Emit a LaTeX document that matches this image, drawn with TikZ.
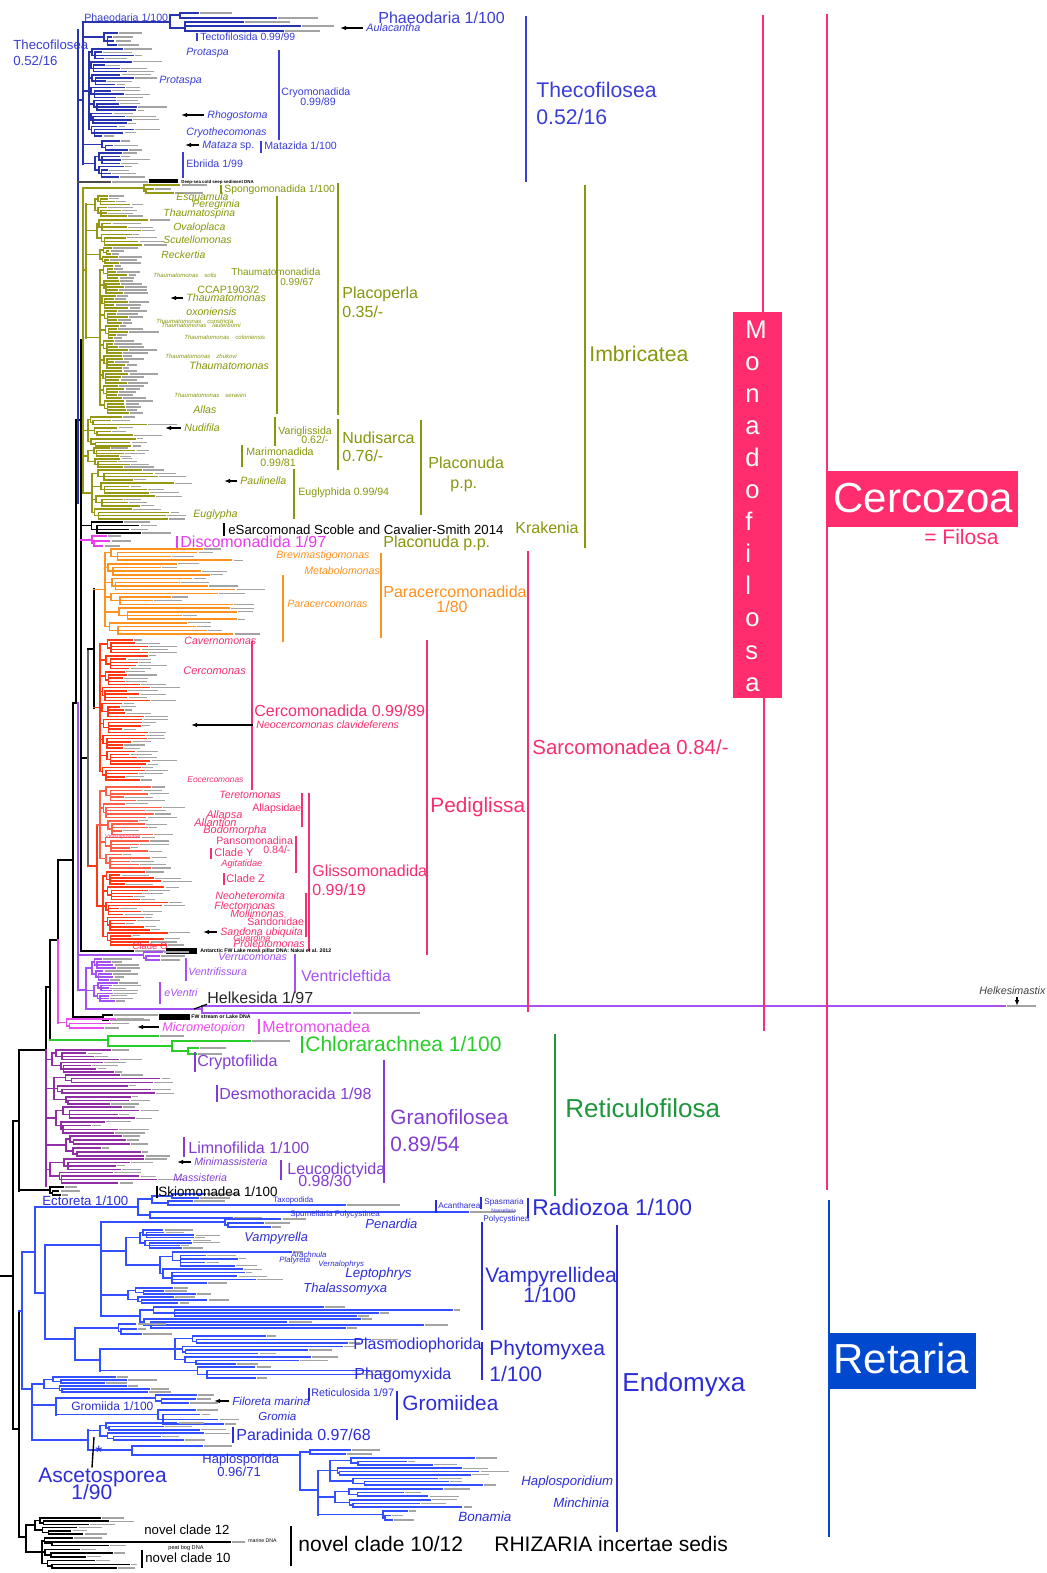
\documentclass[tikz,border=0pt]{standalone}
\usepackage{fontspec}
\setmainfont{Liberation Sans}
\usetikzlibrary{arrows.meta}

\definecolor{pinkC}{RGB}{255,45,110}
\definecolor{retC}{RGB}{0,72,205}
\definecolor{thecoL}{RGB}{58,62,214}
\definecolor{thecoB}{RGB}{40,52,175}
\definecolor{oliveL}{RGB}{135,150,10}
\definecolor{oliveB}{RGB}{150,152,20}
\definecolor{discoC}{RGB}{232,60,238}
\definecolor{orangeC}{RGB}{255,145,30}
\definecolor{cercL}{RGB}{245,48,110}
\definecolor{redB}{RGB}{255,55,20}
\definecolor{salmonB}{RGB}{255,95,70}
\definecolor{ventC}{RGB}{165,80,245}
\definecolor{metroC}{RGB}{235,75,240}
\definecolor{chlorC}{RGB}{40,205,40}
\definecolor{retiL}{RGB}{30,150,60}
\definecolor{granoB}{RGB}{145,45,165}
\definecolor{granoL}{RGB}{130,60,210}
\definecolor{endoL}{RGB}{45,45,215}
\definecolor{endoB}{RGB}{50,80,255}

\tikzset{
  lab/.style={inner sep=0pt, anchor=base west},
  fs/.style={font=\fontsize{#1}{#1}\selectfont, yshift={-0.358*#1pt}},
  fsi/.style={font=\fontsize{#1}{#1}\selectfont\itshape, yshift={-0.358*#1pt}},
  brc/.style={line width=0.75pt, line cap=rect, draw=#1},
  tipl/.style={line width=0.55pt, draw=black!36},
  cb/.style={line width=0.75pt, draw=#1},
  arr/.style={line width=0.55pt, black, -{Latex[length=3pt,width=2.2pt]}},
}

% random two-level comb of leaves, used for every terminal clade
\pgfkeys{/comb/.is family}
\pgfkeys{/comb/.cd, seed/.initial=1, px/.initial=-1, x/.initial=0, top/.initial=0,
  bot/.initial=10, groups/.initial=1, leaves/.initial=3, min/.initial=10, max/.initial=20}
\newcommand\cladecomb[2]{%
  \begingroup
  \pgfkeys{/comb/.cd,#2}%
  \pgfmathsetseed{\pgfkeysvalueof{/comb/seed}}%
  \pgfmathsetmacro\ccX{\pgfkeysvalueof{/comb/x}}%
  \pgfmathsetmacro\ccP{\pgfkeysvalueof{/comb/px}}%
  \pgfmathsetmacro\ccT{\pgfkeysvalueof{/comb/top}}%
  \pgfmathsetmacro\ccB{\pgfkeysvalueof{/comb/bot}}%
  \pgfmathtruncatemacro\ccG{\pgfkeysvalueof{/comb/groups}}%
  \pgfmathtruncatemacro\ccN{\pgfkeysvalueof{/comb/leaves}}%
  \pgfmathsetmacro\ccMin{\pgfkeysvalueof{/comb/min}}%
  \pgfmathsetmacro\ccMax{\pgfkeysvalueof{/comb/max}}%
  \pgfmathsetmacro\ccL{(\ccB-\ccT)/(\ccG*\ccN-1)}%
  \pgfmathtruncatemacro\ccGm{\ccG-1}%
  \pgfmathtruncatemacro\ccNm{\ccN-1}%
  \pgfmathsetmacro\ccQ{\ccN*\ccL/4}%
  \pgfmathsetmacro\ccRt{\ccT+\ccQ}%
  \pgfmathsetmacro\ccRb{\ccT+\ccGm*\ccN*\ccL+\ccQ}%
  \pgfmathsetmacro\ccRm{(\ccRt+\ccRb)/2}%
  \draw[#1] (\ccX,\ccRt) -- (\ccX,\ccRb);
  \ifdim\ccP pt>0pt\relax \draw[#1] (\ccP,\ccRm) -- (\ccX,\ccRm);\fi
  \foreach \ccg in {0,...,\ccGm}{%
    \pgfmathsetmacro\ccGY{\ccT+\ccg*\ccN*\ccL}%
    \pgfmathsetmacro\ccGX{\ccX+2+rnd*0.3*(\ccMin-\ccX)}%
    \pgfmathsetmacro\ccHX{\ccGX+2+rnd*0.25*(\ccMin-\ccGX)}%
    \pgfmathsetmacro\ccHM{\ccGY+\ccN*\ccL/2}%
    \pgfmathsetmacro\ccGM{\ccGY+\ccQ}%
    \pgfmathsetmacro\ccLX{\ccMin+rnd*(\ccMax-\ccMin)}%
    \pgfmathsetmacro\ccTX{\ccLX+8+rnd*24}%
    \draw[#1] (\ccX,\ccGM) -- (\ccGX,\ccGM) (\ccGX,\ccGY) -- (\ccGX,\ccHM) -- (\ccHX,\ccHM)
      (\ccHX,{\ccGY+\ccL}) -- (\ccHX,{\ccGY+\ccNm*\ccL}) (\ccGX,\ccGY) -- (\ccLX,\ccGY);
    \draw[tipl] ({\ccLX+2},\ccGY) -- (\ccTX,\ccGY);
    \foreach \cck in {1,...,\ccNm}{%
      \pgfmathsetmacro\ccLY{\ccGY+\cck*\ccL}%
      \pgfmathsetmacro\ccLX{\ccMin+rnd*(\ccMax-\ccMin)}%
      \pgfmathsetmacro\ccTX{\ccLX+8+rnd*24}%
      \draw[#1] (\ccHX,\ccLY) -- (\ccLX,\ccLY);
      \draw[tipl] ({\ccLX+2},\ccLY) -- (\ccTX,\ccLY);
    }%
  }%
  \endgroup}

\begin{document}
\begin{tikzpicture}[x=0.5pt,y=-0.5pt]
\useasboundingbox (0,0) rectangle (1046,1573);
\fill[white] (0,0) rectangle (1046,1573);

% ================= backbone =================
\draw[brc=black] (0,1276) -- (13,1276) (13,1121) -- (13,1429);
\draw[brc=black] (13,1121) -- (19,1121) (19,1050) -- (19,1191);
\draw[brc=black] (19,1050) -- (46,1050) (46,987) -- (46,1050);
\draw[brc=granoB] (46,1050) -- (46,1186);
\draw[brc=black] (46,987) -- (50,987) (50,940) -- (50,1040);
\draw[brc=black] (50,940) -- (58,940) (58,860) -- (58,940);
\draw[brc=metroC] (58,940) -- (58,1023);
\draw[brc=black] (58,860) -- (73,860) (73,703) -- (73,1017);
\draw[brc=black, line width=1.3pt] (76,420) -- (76,703);
\draw[brc=black] (73,703) -- (78,703) (76,420) -- (81,420);
\draw[brc=ventC] (78,703) -- (78,990) (78,990) -- (86,990) (86,968) -- (86,1009);
\draw[brc=black] (81,340) -- (81,951);
\draw[brc=thecoB] (78,30) -- (78,503) (78,100) -- (83,100) (83,22) -- (83,164);

% ================= Thecofilosea =================
\draw[brc=thecoB] (83,22) -- (170,22) (170,15) -- (170,28)
  (170,15) -- (180,15) (180,13) -- (180,18) (180,13) -- (198,13) (180,18) -- (276,18)
  (170,28) -- (185,28) (185,22) -- (185,31) (185,22) -- (243,22) (185,31) -- (283,31) (185,26) -- (300,26);
\draw[tipl] (200,13) -- (232,13) (278,18) -- (318,18) (245,22) -- (290,22) (302,26) -- (334,26) (285,31) -- (320,31);
\cladecomb{brc=thecoB}{seed=11, px=83, x=100, top=33, bot=45, groups=1, leaves=4, min=110, max=130}
\cladecomb{brc=thecoB}{seed=12, px=83, x=89, top=49, bot=136, groups=7, leaves=4, min=100, max=138}
\cladecomb{brc=thecoB}{seed=13, px=83, x=100, top=141, bot=150, groups=1, leaves=3, min=112, max=128}
\cladecomb{brc=thecoB}{seed=14, px=83, x=95, top=153, bot=177, groups=2, leaves=4, min=105, max=128}
\draw[brc=black!70] (78,182) -- (110,182);
\draw[tipl] (112,182) -- (148,182);
\fill[black] (149,179.5) rectangle (178,183.5);

% ================= Imbricatea =================
\draw[brc=black] (81,340) -- (83,340);
\draw[brc=oliveB] (83,188) -- (83,493) (83,270) -- (86,270) (86,204) -- (86,338);
\cladecomb{brc=oliveB}{seed=21, px=83, x=140, top=185, bot=193, groups=1, leaves=3, min=150, max=185}
\cladecomb{brc=oliveB}{seed=22, px=86, x=95, top=196, bot=216, groups=2, leaves=4, min=105, max=130}
\cladecomb{brc=oliveB}{seed=23, px=86, x=97, top=220, bot=245, groups=2, leaves=4, min=108, max=150}
\cladecomb{brc=oliveB}{seed=24, px=86, x=100, top=248, bot=263, groups=2, leaves=3, min=108, max=125}
\cladecomb{brc=oliveB}{seed=25, px=86, x=100, top=266, bot=413, groups=10, leaves=5, min=112, max=128}
\cladecomb{brc=oliveB}{seed=26, px=83, x=88, top=417, bot=446, groups=3, leaves=3, min=110, max=150}
\cladecomb{brc=oliveB}{seed=27, px=83, x=88, top=448, bot=467, groups=2, leaves=4, min=105, max=135}
\cladecomb{brc=oliveB}{seed=28, px=83, x=92, top=470, bot=519, groups=4, leaves=4, min=120, max=175}
\cladecomb{brc=black}{seed=29, px=81, x=88, top=522, bot=533, groups=1, leaves=4, min=110, max=160}

% ================= Sarcomonadea =================
\cladecomb{brc=discoC}{seed=31, px=81, x=88, top=536, bot=546, groups=1, leaves=3, min=100, max=118}
\draw[brc=black] (81,758) -- (88,758);
\draw[brc=black!60] (88,649) -- (88,866);
\draw[brc=black] (88,649) -- (94,649) (94,589) -- (94,708);
\cladecomb{brc=orangeC}{seed=32, px=94, x=105, top=549, bot=634, groups=6, leaves=4, min=150, max=240}
\cladecomb{brc=redB}{seed=33, px=94, x=100, top=640, bot=780, groups=9, leaves=5, min=118, max=150}
\draw[brc=redB] (88,866) -- (97,866) (97,825) -- (97,906);
\cladecomb{brc=salmonB}{seed=34, px=97, x=100, top=787, bot=868, groups=5, leaves=5, min=120, max=165}
\cladecomb{brc=redB}{seed=35, px=97, x=103, top=872, bot=945, groups=5, leaves=5, min=115, max=170}
\draw[brc=black] (81,951) -- (133,951);
\draw[tipl] (135,951) -- (165,951);
\fill[black] (166,948) rectangle (197,954);

% ================= Ventricleftida, Helkesida =================
\cladecomb{brc=ventC}{seed=41, px=78, x=140, top=952, bot=960, groups=1, leaves=3, min=150, max=165}
\cladecomb{brc=ventC}{seed=42, px=86, x=92, top=959, bot=980, groups=2, leaves=4, min=100, max=118}
\cladecomb{brc=ventC}{seed=43, px=86, x=94, top=983, bot=1001, groups=2, leaves=4, min=102, max=118}
\draw[brc=ventC] (86,1009) -- (202,1009) (202,1006) -- (202,1013) (202,1006) -- (1005,1006) (202,1013) -- (350,1013);
\draw[tipl] (1007,1006) -- (1036,1006) (353,1013) -- (420,1013);
\draw[brc=black] (73,1017) -- (103,1017) (103,1015) -- (103,1020) (103,1015) -- (112,1015) (103,1020) -- (108,1020);
\draw[tipl] (114,1015) -- (158,1015) (110,1020) -- (150,1020);
\fill[black] (159,1014) rectangle (190,1020);

% ================= Metromonadea, Chlorarachnea =================
\cladecomb{brc=metroC}{seed=57, px=58, x=62, top=1019, bot=1028, groups=1, leaves=3, min=75, max=140}
\draw[brc=chlorC] (50,1040) -- (108,1040) (108,1036) -- (108,1046) (108,1036) -- (158,1036) (108,1046) -- (172,1046)
  (172,1041) -- (172,1051) (172,1041) -- (250,1041) (172,1051) -- (188,1051) (188,1048) -- (188,1054)
  (188,1048) -- (198,1048) (188,1054) -- (196,1054);
\draw[tipl] (160,1036) -- (184,1036) (252,1041) -- (290,1041) (200,1048) -- (226,1048) (198,1054) -- (222,1054);

% ================= Granofilosea, Skiomonadea =================
\cladecomb{brc=granoB}{seed=52, px=46, x=52, top=1050, bot=1072, groups=2, leaves=4, min=85, max=130}
\cladecomb{brc=granoB}{seed=53, px=46, x=54, top=1075, bot=1104, groups=3, leaves=3, min=90, max=160}
\cladecomb{brc=granoB}{seed=54, px=46, x=56, top=1107, bot=1133, groups=2, leaves=4, min=85, max=140}
\cladecomb{brc=granoB}{seed=55, px=46, x=66, top=1136, bot=1156, groups=2, leaves=3, min=90, max=150}
\cladecomb{brc=granoB}{seed=56, px=46, x=50, top=1159, bot=1183, groups=2, leaves=4, min=90, max=160}
\cladecomb{brc=black}{seed=51, px=19, x=46, top=1187, bot=1195, groups=1, leaves=3, min=58, max=75}

% ================= Retaria, Endomyxa =================
\draw[brc=black] (13,1429) -- (19,1429) (19,1311) -- (19,1537);
\draw[brc=endoB] (19,1311) -- (22,1311) (22,1252) -- (22,1389);
\draw[brc=endoB] (22,1252) -- (35,1252) (35,1207) -- (35,1293);
\draw[brc=endoB] (35,1207) -- (138,1207) (138,1199) -- (138,1215)
  (138,1199) -- (152,1199) (152,1196) -- (152,1203)
  (152,1196) -- (172,1196) (172,1194) -- (172,1198) (172,1194) -- (205,1194) (172,1198) -- (198,1198)
  (152,1203) -- (168,1203) (168,1201) -- (168,1205) (168,1201) -- (192,1201) (168,1205) -- (345,1205)
  (138,1215) -- (150,1215) (150,1212) -- (150,1218) (150,1212) -- (468,1212) (150,1218) -- (232,1218);
\draw[tipl] (207,1194) -- (240,1194) (200,1198) -- (230,1198) (194,1201) -- (225,1201) (347,1205) -- (400,1205)
  (470,1212) -- (515,1212) (234,1218) -- (262,1218);
\draw[brc=endoB] (35,1293) -- (45,1293) (45,1245) -- (45,1339);
\draw[brc=endoB] (45,1245) -- (101,1245) (101,1222) -- (101,1316) (101,1251) -- (126,1251) (126,1238) -- (126,1265);
\cladecomb{brc=endoB}{seed=61, px=101, x=220, top=1219, bot=1227, groups=1, leaves=3, min=240, max=290}
\cladecomb{brc=endoB}{seed=62, px=126, x=140, top=1230, bot=1248, groups=2, leaves=4, min=160, max=210}
\cladecomb{brc=endoB}{seed=63, px=126, x=160, top=1252, bot=1283, groups=2, leaves=5, min=200, max=300}
\cladecomb{brc=endoB}{seed=64, px=101, x=128, top=1288, bot=1303, groups=2, leaves=3, min=160, max=240}
\cladecomb{brc=endoB}{seed=68, px=101, x=140, top=1307, bot=1328, groups=2, leaves=4, min=250, max=460}
\draw[brc=endoB] (45,1339) -- (75,1339) (75,1328) -- (75,1360) (75,1360) -- (100,1360) (100,1349) -- (100,1371);
\cladecomb{brc=endoB}{seed=65, px=75, x=115, top=1324, bot=1334, groups=1, leaves=3, min=135, max=180}
\cladecomb{brc=endoB}{seed=66, px=100, x=175, top=1336, bot=1364, groups=3, leaves=3, min=230, max=370}
\cladecomb{brc=endoB}{seed=67, px=100, x=185, top=1367, bot=1378, groups=1, leaves=4, min=240, max=372}
\draw[brc=endoB] (22,1389) -- (32,1389) (32,1384) -- (32,1440) (32,1405) -- (56,1405) (56,1399) -- (56,1415);
\cladecomb{brc=endoB}{seed=71, px=32, x=44, top=1377, bot=1392, groups=2, leaves=3, min=100, max=150}
\cladecomb{brc=endoB}{seed=72, px=56, x=152, top=1395, bot=1403, groups=1, leaves=3, min=185, max=205}
\cladecomb{brc=endoB}{seed=73, px=56, x=150, top=1410, bot=1424, groups=1, leaves=4, min=175, max=225}
\draw[brc=endoB] (32,1440) -- (88,1440) (88,1430) -- (88,1450);
\cladecomb{brc=endoB}{seed=74, px=88, x=100, top=1423, bot=1440, groups=2, leaves=3, min=125, max=205}
\draw[brc=endoB] (88,1450) -- (132,1450) (132,1446) -- (132,1455) (132,1446) -- (202,1446) (132,1455) -- (300,1455)
  (300,1452) -- (300,1490) (300,1452) -- (310,1452) (310,1450) -- (310,1454) (310,1450) -- (350,1450) (310,1454) -- (345,1454)
  (300,1490) -- (318,1490) (318,1471) -- (318,1515);
\draw[tipl] (204,1446) -- (232,1446) (352,1450) -- (380,1450) (347,1454) -- (372,1454);
\cladecomb{brc=endoB}{seed=76, px=318, x=330, top=1458, bot=1485, groups=3, leaves=3, min=400, max=500}
\cladecomb{brc=endoB}{seed=77, px=318, x=335, top=1489, bot=1507, groups=2, leaves=3, min=400, max=470}
\cladecomb{brc=endoB}{seed=78, px=318, x=380, top=1511, bot=1520, groups=1, leaves=3, min=390, max=410}

% ================= novel clades =================
\draw[brc=black] (19,1537) -- (26,1537) (26,1525) -- (26,1552);
\cladecomb{brc=black}{seed=81, px=26, x=35, top=1518, bot=1534, groups=2, leaves=3, min=60, max=110}
\cladecomb{brc=black}{seed=82, px=26, x=42, top=1538, bot=1568, groups=3, leaves=3, min=70, max=130}
\draw[brc=black] (45,1542) -- (230,1542);
\draw[tipl] (232,1542) -- (245,1542);

% ================= clade bars =================
\draw[cb=thecoL] (526,16) -- (526,182) (279,50) -- (279,140) (261,141) -- (261,153) (183,152) -- (183,178) (197,33) -- (197,41);
\draw[cb=oliveL] (221,185) -- (221,194) (277,196) -- (277,414) (338,183) -- (338,415) (275,417) -- (275,446)
  (242,445) -- (242,467) (338,419) -- (338,470) (294,469) -- (294,519) (421,420) -- (421,515) (585,185) -- (585,548);
\draw[cb=black] (224,523) -- (224,536) (157,1186) -- (157,1198) (142,1550) -- (142,1568) (291,1526) -- (291,1566);
\draw[cb=discoC] (177,536) -- (177,548);
\draw[cb=orangeC] (381,553) -- (381,638) (283,575) -- (283,642);
\draw[cb=cercL] (252,641) -- (252,790) (302,793) -- (302,827) (296,836) -- (296,873) (211,848) -- (211,859)
  (224,873) -- (224,885) (309,793) -- (309,951) (306,893) -- (306,937) (427,640) -- (427,955) (528,551) -- (528,1012);
\draw[cb=ventC] (186,958) -- (186,981) (295,954) -- (295,993) (160,982) -- (160,1004);
\draw[cb=metroC] (259,1019) -- (259,1034);
\draw[cb=chlorC] (302,1036) -- (302,1053);
\draw[cb=retiL] (555,1034) -- (555,1196);
\draw[cb=granoL] (195,1052) -- (195,1072) (217,1085) -- (217,1102) (384,1060) -- (384,1183) (184,1137) -- (184,1157) (281,1160) -- (281,1180);
\draw[cb=endoL] (436,1200) -- (436,1213) (481,1197) -- (481,1209) (528,1198) -- (528,1218) (482,1222) -- (482,1330)
  (482,1342) -- (482,1380) (617,1225) -- (617,1532) (309,1388) -- (309,1401) (397,1391) -- (397,1420) (233,1427) -- (233,1443);

% ================= labels: Thecofilosea =================
\node[lab,fs=5.3,thecoL] (tPhaeoS) at (84,18) {Phaeodaria 1/100};
\node[lab,fs=6.6,thecoL] (tThecoS) at (13,45) {Thecofilosea};
\node[lab,fs=6.6,thecoL] (tThecoSv) at (13,61) {0.52/16};
\node[lab,fs=8,thecoL] (tPhaeo) at (378,18) {Phaeodaria 1/100};
\node[lab,fsi=5.4,thecoL] (tAula) at (366,28) {Aulacantha};
\node[lab,fs=5.2,thecoL] (tTecto) at (200,37) {Tectofilosida 0.99/99};
\node[lab,fsi=5.3,thecoL] (tProt1) at (186,52) {Protaspa};
\node[lab,fsi=5.3,thecoL] (tProt2) at (159,80) {Protaspa};
\node[lab,fs=5.3,thecoL] (tCryo) at (281,92) {Cryomonadida};
\node[lab,fs=5.3,thecoL] (tCryoV) at (300,102) {0.99/89};
\node[lab,fsi=5.3,thecoL] (tRhogo) at (207,115) {Rhogostoma};
\node[lab,fsi=5.3,thecoL] (tCryot) at (186,132) {Cryothecomonas};
\node[lab,fs=5.3,thecoL] (tMataza) at (202,145) {{\itshape Mataza} sp.};
\node[lab,fs=5.3,thecoL] (tMatazida) at (264,146) {Matazida 1/100};
\node[lab,fs=5.3,thecoL] (tEbri) at (186,164) {Ebriida 1/99};
\node[lab,fs=2.2,black] (tDeep) at (181,182) {\bfseries Deep-sea cold seep sediment DNA};
\node[lab,fs=10.6,thecoL] (tTheco) at (536,90) {Thecofilosea};
\node[lab,fs=10.6,thecoL] (tThecoV) at (536,117) {0.52/16};

% ================= labels: Imbricatea =================
\node[lab,fs=5.2,oliveL] (tSpongo) at (224,189) {Spongomonadida 1/100};
\node[lab,fsi=5.2,oliveL] (tEsq) at (176,197) {Esquamula};
\node[lab,fsi=5.2,oliveL] (tPereg) at (192,204) {Peregrinia};
\node[lab,fsi=5.2,oliveL] (tThsp) at (163,213) {Thaumatospina};
\node[lab,fsi=5.2,oliveL] (tOval) at (173,227) {Ovaloplaca};
\node[lab,fsi=5.2,oliveL] (tScut) at (163,240) {Scutellomonas};
\node[lab,fsi=5.2,oliveL] (tReck) at (161,255) {Reckertia};
\node[lab,fsi=3,oliveL] (tTsol) at (153,275) {Thaumatomonas\quad solis};
\node[lab,fs=5.3,oliveL] (tCCAP) at (197,290) {CCAP1903/2};
\node[lab,fsi=5.3,oliveL] (tThaum1) at (186,298) {Thaumatomonas};
\node[lab,fsi=5.3,oliveL] (tOxon) at (186,312) {oxoniensis};
\node[lab,fsi=3,oliveL] (tTcons) at (156,321) {Thaumatomonas\quad constricta};
\node[lab,fsi=3,oliveL] (tTlaut) at (161,325) {Thaumatomonas\quad lauterborni};
\node[lab,fsi=3,oliveL] (tTcol) at (184,337) {Thaumatomonas\quad coloniensis};
\node[lab,fsi=3,oliveL] (tTzhu) at (165,356) {Thaumatomonas\quad zhukovi};
\node[lab,fsi=5.3,oliveL] (tThaum2) at (189,366) {Thaumatomonas};
\node[lab,fsi=3,oliveL] (tTser) at (174,395) {Thaumatomonas\quad seravini};
\node[lab,fsi=5.3,oliveL] (tAllas) at (193,410) {Allas};
\node[lab,fs=5,oliveL] (tThaumo) at (231,272) {Thaumatomonadida};
\node[lab,fs=5,oliveL] (tThaumoV) at (280,282) {0.99/67};
\node[lab,fs=8,oliveL] (tPlacop) at (342,293) {Placoperla};
\node[lab,fs=8,oliveL] (tPlacopV) at (342,312) {0.35/-};
\node[lab,fsi=5.3,oliveL] (tNudi) at (184,428) {Nudifila};
\node[lab,fs=5.3,oliveL] (tVarig) at (278,431) {Variglissida};
\node[lab,fs=5.3,oliveL] (tVarigV) at (301,440) {0.62/-};
\node[lab,fs=5.3,oliveL] (tMarim) at (246,452) {Marimonadida};
\node[lab,fs=5.3,oliveL] (tMarimV) at (260,463) {0.99/81};
\node[lab,fs=8,oliveL] (tNudis) at (342,438) {Nudisarca};
\node[lab,fs=8,oliveL] (tNudisV) at (342,456) {0.76/-};
\node[lab,fsi=5.3,oliveL] (tPauli) at (240,481) {Paulinella};
\node[lab,fs=5.3,oliveL] (tEugl) at (298,492) {Euglyphida 0.99/94};
\node[lab,fsi=5.3,oliveL] (tEuglypha) at (193,514) {Euglypha};
\node[lab,fs=8,oliveL] (tPlacon) at (428,463) {Placonuda};
\node[lab,fs=8,oliveL] (tPlaconV) at (450,483) {p.p.};
\node[lab,fs=6.6,black] (tESarc) at (228,530) {eSarcomonad Scoble and Cavalier-Smith 2014};
\node[lab,fs=8,oliveL] (tKrak) at (515,528) {Krakenia};
\node[lab,fs=10.6,oliveL] (tImbr) at (589,354) {Imbricatea};
\node[lab,fs=8,oliveL] (tPlaconPP) at (383,542) {Placonuda p.p.};

% ================= labels: Sarcomonadea =================
\node[lab,fs=8,discoC] (tDisco) at (180,542) {Discomonadida 1/97};
\node[lab,fsi=5.3,orangeC] (tBrev) at (276,555) {Brevimastigomonas};
\node[lab,fsi=5.3,orangeC] (tMetab) at (304,571) {Metabolomonas};
\node[lab,fsi=5.3,orangeC] (tParac) at (287,604) {Paracercomonas};
\node[lab,fs=8,orangeC] (tParacd) at (383,592) {Paracercomonadida};
\node[lab,fs=8,orangeC] (tParacdV) at (436,607) {1/80};
\node[lab,fsi=5.3,cercL] (tCavern) at (184,641) {Cavernomonas};
\node[lab,fsi=5.5,cercL] (tCercom) at (183,671) {Cercomonas};
\node[lab,fs=8,cercL] (tCercd) at (254,711) {Cercomonadida 0.99/89};
\node[lab,fsi=5.3,cercL] (tNeoc) at (256,725) {Neocercomonas clavideferens};
\node[lab,fsi=4.2,cercL] (tEoc) at (187,779) {Eocercomonas};
\node[lab,fsi=5.3,cercL] (tTeret) at (219,795) {Teretomonas};
\node[lab,fs=5.3,cercL] (tAllapsidae) at (252,808) {Allapsidae};
\node[lab,fsi=5.5,cercL] (tAllapsa) at (206,815) {Allapsa};
\node[lab,fsi=5.5,cercL] (tAllantion) at (194,823) {Allantion};
\node[lab,fsi=5.5,cercL] (tBodo) at (203,830) {Bodomorpha};
\node[lab,fs=2.6,cercL] (tVirid) at (105,837) {Viridiraptoridae};
\node[lab,fs=5.3,cercL] (tPanso) at (216,841) {Pansomonadina};
\node[lab,fs=5.3,cercL] (tPansoV) at (263,850) {0.84/-};
\node[lab,fs=5.5,cercL] (tCladeY) at (214,853) {Clade Y};
\node[lab,fsi=4.6,cercL] (tAgit) at (221,863) {Agitatidae};
\node[lab,fs=5.5,cercL] (tCladeZ) at (226,879) {Clade Z};
\node[lab,fs=8,cercL] (tGliss) at (312,871) {Glissomonadida};
\node[lab,fs=8,cercL] (tGlissV) at (312,890) {0.99/19};
\node[lab,fsi=5.3,cercL] (tNeoh) at (215,896) {Neoheteromita};
\node[lab,fsi=5.3,cercL] (tFlect) at (214,906) {Flectomonas};
\node[lab,fsi=5.3,cercL] (tMolli) at (230,914) {Mollimonas};
\node[lab,fs=5.3,cercL] (tSandonidae) at (247,922) {Sandonidae};
\node[lab,fsi=5.3,cercL] (tSandona) at (220,932) {Sandona ubiquita};
\node[lab,fsi=4.5,cercL] (tGuard) at (233,938) {Guardina};
\node[lab,fsi=5.3,cercL] (tProlep) at (233,944) {Proleptomonas};
\node[lab,fs=4.8,cercL] (tCladeO) at (132,946) {Clade O};
\node[lab,fs=10.4,cercL] (tPedig) at (430,805) {Pediglissa};
\node[lab,fs=10.2,cercL] (tSarco) at (532,747) {Sarcomonadea 0.84/-};
\node[lab,fs=2.6,black] (tAntarc) at (200,951) {\bfseries Antarctic FW Lake moss pillar DNA: Nakai et al. 2012};

% ================= labels: Ventricleftida to Skiomonadea =================
\node[lab,fsi=5.3,ventC] (tVerru) at (218,957) {Verrucomonas};
\node[lab,fsi=5.3,ventC] (tVentf) at (188,972) {Ventrifissura};
\node[lab,fs=7.8,ventC] (tVentc) at (301,976) {Ventricleftida};
\node[lab,fsi=5.3,ventC] (tEventri) at (164,993) {eVentri};
\node[lab,fs=8,black!85] (tHelk) at (207,998) {Helkesida 1/97};
\node[lab,fsi=5.35,black!75] (tHelkm) at (979,991) {Helkesimastix};
\node[lab,fs=2.6,black] (tFW) at (191,1017) {\bfseries FW stream or Lake DNA};
\node[lab,fsi=6.3,metroC] (tMicro) at (162,1027) {Micrometopion};
\node[lab,fs=8,metroC] (tMetro) at (262,1027) {Metromonadea};
\node[lab,fs=10.5,chlorC] (tChlor) at (305,1044) {Chlorarachnea 1/100};
\node[lab,fs=13,retiL] (tReti) at (565,1108) {Reticulofilosa};
\node[lab,fs=8,granoL] (tCrypto) at (197,1061) {Cryptofilida};
\node[lab,fs=8,granoL] (tDesmo) at (219,1094) {Desmothoracida 1/98};
\node[lab,fs=10.4,granoL] (tGrano) at (390,1117) {Granofilosea};
\node[lab,fs=10.4,granoL] (tGranoV) at (390,1144) {0.89/54};
\node[lab,fs=8,granoL] (tLimno) at (188,1148) {Limnofilida 1/100};
\node[lab,fsi=5.3,granoL] (tMinim) at (194,1162) {Minimassisteria};
\node[lab,fsi=5.3,granoL] (tMassis) at (173,1178) {Massisteria};
\node[lab,fs=8,granoL] (tLeuco) at (287,1169) {Leucodictyida};
\node[lab,fs=8,granoL] (tLeucoV) at (298,1181) {0.98/30};
\node[lab,fs=6.7,black] (tSkio) at (158,1192) {Skiomonadea 1/100};

% ================= labels: Retaria =================
\node[lab,fs=6.6,endoL] (tEcto) at (42,1201) {Ectoreta 1/100};
\node[lab,fs=3.9,endoL] (tTaxo) at (273,1200) {Taxopodida};
\node[lab,fs=4.1,endoL] (tAcanth) at (438,1206) {Acantharea};
\node[lab,fs=4.1,endoL] (tSpasm) at (484,1202) {Spasmaria};
\node[lab,fs=2.5,endoL] (tNassel) at (491,1211) {Nassellaria};
\node[lab,fs=4.1,endoL] (tPolyc) at (483,1219) {Polycystinea};
\node[lab,fs=11.4,endoL] (tRadio) at (532,1207) {Radiozoa 1/100};
\node[lab,fs=4,endoL] (tSpum) at (290,1214) {Spumellaria Polycystinea};
\node[lab,fsi=6.5,endoL] (tPenard) at (365,1224) {Penardia};
\node[lab,fsi=6.4,endoL] (tVampa) at (244,1237) {Vampyrella};
\node[lab,fsi=3.9,endoL] (tArach) at (291,1255) {Arachnula};
\node[lab,fsi=3.9,endoL] (tPlaty) at (279,1260) {Platyreta};
\node[lab,fsi=3.9,endoL] (tVernal) at (318,1264) {Vernalophrys};
\node[lab,fsi=6.7,endoL] (tLepto) at (345,1273) {Leptophrys};
\node[lab,fsi=6.5,endoL] (tThalas) at (303,1288) {Thalassomyxa};
\node[lab,fs=10.5,endoL] (tVampd) at (485,1275) {Vampyrellidea};
\node[lab,fs=10.5,endoL] (tVampdV) at (523,1295) {1/100};
\node[lab,fs=8,endoL] (tPlasm) at (353,1344) {Plasmodiophorida};
\node[lab,fs=8,endoL] (tPhago) at (354,1374) {Phagomyxida};
\node[lab,fs=10.5,endoL] (tPhyto) at (489,1348) {Phytomyxea};
\node[lab,fs=10.5,endoL] (tPhytoV) at (489,1374) {1/100};
\node[lab,fs=13,endoL] (tEndo) at (622,1382) {Endomyxa};
\node[lab,fs=5.4,endoL] (tRetic) at (311,1393) {Reticulosida 1/97};
\node[lab,fsi=5.8,endoL] (tFilo) at (232,1401) {Filoreta marina};
\node[lab,fs=10.4,endoL] (tGromd) at (402,1403) {Gromiidea};
\node[lab,fs=6,endoL] (tGromiida) at (71,1406) {Gromiida 1/100};
\node[lab,fsi=5.8,endoL] (tGromia) at (258,1416) {Gromia};
\node[lab,fs=8,endoL] (tParad) at (236,1435) {Paradinida 0.97/68};
\node[lab,fs=6.5,endoL] (tHaplo) at (202,1459) {Haplosporida};
\node[lab,fs=6.5,endoL] (tHaploV) at (217,1472) {0.96/71};
\node[lab,fs=10.5,endoL] (tAsc) at (38,1475) {Ascetosporea};
\node[lab,fs=10.5,endoL] (tAscV) at (71,1492) {1/90};
\node[inner sep=0pt,endoL,font=\fontsize{9}{9}\selectfont] (tStar) at (99,1452) {*};
\node[lab,fsi=6.6,endoL] (tHaplom) at (521,1481) {Haplosporidium};
\node[lab,fsi=6.6,endoL] (tMinch) at (553,1503) {Minchinia};
\node[lab,fsi=6.7,endoL] (tBonam) at (458,1517) {Bonamia};

% ================= labels: novel clades =================
\node[lab,fs=6.6,black] (tNov12) at (144,1530) {novel clade 12};
\node[lab,fs=6.6,black] (tNov10) at (145,1558) {novel clade 10};
\node[lab,fs=2.6,black] (tMarine) at (248,1541) {marine DNA};
\node[lab,fs=2.8,black] (tPeat) at (168,1547) {peat bog DNA};
\node[lab,fs=10.5,black] (tNov1012) at (298,1544) {novel clade 10/12};
\node[lab,fs=10.5,black] (tRhiz) at (494,1544) {RHIZARIA incertae sedis};

% ================= pointers =================
\coordinate (pAula) at (340,28);
\coordinate (pRhogo) at (181,115);
\coordinate (pMataza) at (185,145);
\coordinate (pThaum) at (170,298);
\coordinate (pNudi) at (165,428);
\coordinate (pPauli) at (224,481);
\coordinate (pNeoc) at (191,725);
\coordinate (pSandona) at (203,932);
\coordinate (pMicro) at (137,1027);
\coordinate (pMinim) at (177,1162);
\coordinate (pFilo) at (214,1401);
\coordinate (pHelkm) at (1017,1006);
\coordinate (pHelk) at (194,1009);
\coordinate (pAsc) at (94,1437);
\draw[arr, shorten <=1.5pt] (tAula.west |- pAula) -- (pAula);
\draw[arr, shorten <=1.5pt] (tRhogo.west |- pRhogo) -- (pRhogo);
\draw[arr, shorten <=1.5pt] (tMataza.west |- pMataza) -- (pMataza);
\draw[arr, shorten <=1.5pt] (tThaum1.west |- pThaum) -- (pThaum);
\draw[arr, shorten <=1.5pt] (tNudi.west |- pNudi) -- (pNudi);
\draw[arr, shorten <=1.5pt] (tPauli.west |- pPauli) -- (pPauli);
\draw[arr, shorten <=1.5pt] (tNeoc.west |- pNeoc) -- (pNeoc);
\draw[arr, shorten <=1.5pt] (tSandona.west |- pSandona) -- (pSandona);
\draw[arr, shorten <=1.5pt] (tMicro.west |- pMicro) -- (pMicro);
\draw[arr, shorten <=1.5pt] (tMinim.west |- pMinim) -- (pMinim);
\draw[arr, shorten <=1.5pt] (tFilo.west |- pFilo) -- (pFilo);
\draw[arr, shorten <=1pt] (tHelkm.south -| pHelkm) -- (pHelkm);
\draw[line width=0.6pt, black] (tHelk.south west) -- (pHelk);
\draw[line width=0.7pt, black] (tAsc.north -| pAsc) ++(-2,0) -- (pAsc);

% ================= Monadofilosa, Cercozoa, Retaria =================
\draw[pinkC, line width=1pt] (763,15) -- (763,312) (764,698) -- (764,1031);
\fill[pinkC] (733,312) rectangle (782,698);
\foreach \ch [count=\k from 0] in {M,o,n,a,d,o,f,i,l,o,s,a}
  \node[lab, white, font=\fontsize{12.8}{12.8}\selectfont] (mono\k) at (745,{338+32.1*\k}) {\ch};
\draw[pinkC, line width=1pt] (827,14) -- (827,1190);
\fill[pinkC] (828,471) rectangle (1018,527);
\node[lab, white, font=\fontsize{21}{21}\selectfont] (tCercozoa) at (833,512) {Cercozoa};
\node[lab, pinkC, font=\fontsize{10.5}{10.5}\selectfont] (tFilosa) at (924,544) {= Filosa};
\draw[retC, line width=1pt] (829,1200) -- (829,1537);
\fill[retC] (829,1333) rectangle (976,1389);
\node[lab, white, font=\fontsize{21}{21}\selectfont] (tRetaria) at (833,1373) {Retaria};
\end{tikzpicture}
\end{document}
